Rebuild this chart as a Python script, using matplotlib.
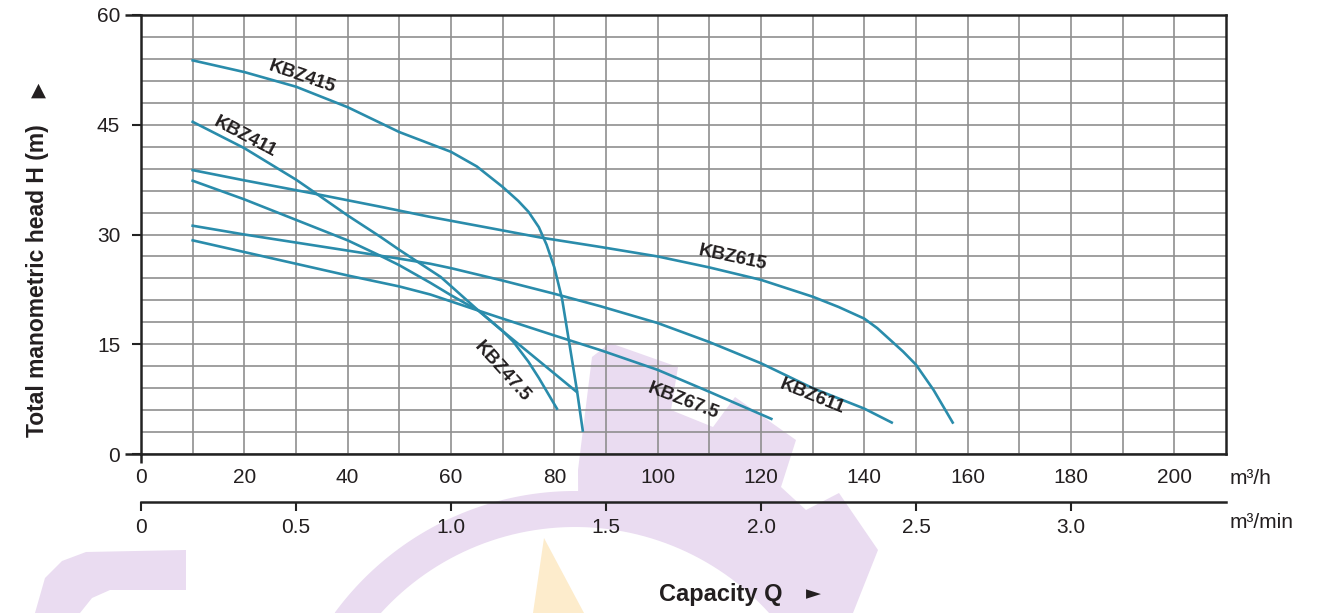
import matplotlib
matplotlib.use("Agg")
import matplotlib.pyplot as plt
import numpy as np
from matplotlib.patches import Polygon
from matplotlib.transforms import Affine2D, blended_transform_factory

plt.rcParams['font.family'] = ['Liberation Sans', 'DejaVu Sans']

# ---------------- data ----------------
q415 = [10, 20, 30, 40, 50, 60, 65, 70, 73, 75, 77, 78.5, 80, 81.5, 83, 84.4, 85.5]
h415 = [53.8, 52.2, 50.2, 47.4, 44.0, 41.3, 39.3, 36.5, 34.6, 33.1, 31.0, 28.6, 25.5, 21.2, 14.7, 8.6, 3.2]

q411 = [10, 20, 30, 33.3, 40, 46.3, 50, 58, 65, 70, 75, 80, 84.3]
h411 = [45.4, 41.8, 37.5, 35.9, 32.6, 29.7, 27.9, 24.2, 19.8, 16.8, 13.9, 11.0, 8.5]

q47 = [10, 20, 30, 40, 46.3, 50, 56, 60, 65.3, 70, 72, 75, 77, 80.5]
h47 = [37.35, 34.8, 32.0, 29.2, 27.1, 25.8, 23.4, 21.7, 19.6, 16.8, 15.4, 12.6, 10.4, 6.2]

q615 = [10, 20, 33.4, 46.3, 56, 67.4, 77.2, 88.9, 100, 110, 120, 130, 135, 140, 142.5, 145, 147.5, 150, 153.4, 157.1]
h615 = [38.8, 37.4, 35.6, 33.8, 32.4, 30.9, 29.6, 28.3, 27.0, 25.5, 23.8, 21.5, 20.1, 18.5, 17.2, 15.6, 14.0, 12.2, 8.75, 4.3]

q611 = [10, 20, 30, 40, 46.3, 50, 56, 60, 70, 80, 88.9, 100, 110, 120, 130, 140, 145.3]
h611 = [31.2, 30.0, 28.9, 27.8, 27.1, 26.7, 26.0, 25.4, 23.7, 21.9, 20.2, 17.9, 15.3, 12.4, 9.0, 6.2, 4.3]

q675 = [10, 20, 30, 40, 50, 56, 65.3, 70, 80, 88.9, 100, 110, 122]
h675 = [29.2, 27.6, 26.0, 24.4, 22.9, 21.8, 19.6, 18.5, 16.2, 14.2, 11.5, 8.5, 4.8]

curve_names = ['KBZ415', 'KBZ411', 'KBZ47.5', 'KBZ615', 'KBZ611', 'KBZ67.5']
label_pos = {'KBZ415': (31.2, 51.5, -19), 'KBZ411': (20.1, 43.3, -28),
             'KBZ47.5': (69.9, 11.3, -48), 'KBZ615': (114.6, 26.8, -12),
             'KBZ611': (129.9, 7.8, -22), 'KBZ67.5': (104.9, 7.2, -21)}

x_ticks_h = [0, 20, 40, 60, 80, 100, 120, 140, 160, 180, 200]
y_ticks = [0, 15, 30, 45, 60]
x_ticks_min = [0, 0.5, 1.0, 1.5, 2.0, 2.5, 3.0]
x_ticklabels_min = ['0', '0.5', '1.0', '1.5', '2.0', '2.5', '3.0']

W, H = 1338, 613
CURVE = '#2a8cab'
TXT = '#231f20'

fig = plt.figure(figsize=(W / 100, H / 100), dpi=100)
fig.patch.set_facecolor('white')

# ---------------- watermark (pixel coordinates) ----------------
pix = Affine2D().scale(1, -1).translate(0, H)
cx, cy = 575, 789
def arc(r, a0, a1, n=60):
    a = np.radians(np.linspace(a0, a1, n))
    return list(zip(cx + r * np.cos(a), cy - r * np.sin(a)))

gear = [(335, 613)] + arc(298, 143.7, 89.4) + [
    (578, 470), (592, 357), (610, 343), (678, 367), (671, 410), (713, 427),
    (735, 397), (796, 440), (781, 487), (806, 510), (839, 493), (878, 550),
    (853, 613), (769, 613)] + arc(262, 42.2, 137.8) + [(381, 613)]
fig.add_artist(Polygon(gear, closed=True, transform=pix, facecolor='#eadcf1',
                       edgecolor='none', zorder=-5))
left_shape = [(35, 613), (45, 578), (62, 561), (86, 552), (186, 550), (186, 590),
              (110, 590), (92, 598), (80, 613)]
fig.add_artist(Polygon(left_shape, closed=True, transform=pix, facecolor='#eadcf1',
                       edgecolor='none', zorder=-5))
flame = [(544, 538), (533, 613), (584, 613)]
fig.add_artist(Polygon(flame, closed=True, transform=pix, facecolor='#fdeccc',
                       edgecolor='none', zorder=-4))

# ---------------- main axes ----------------
ax = fig.add_axes([141 / W, 1 - 454 / H, 1085 / W, 439 / H])
ax.set_facecolor('none')
ax.set_xlim(0, 210)
ax.set_ylim(0, 60)

ax.set_xticks(x_ticks_h)
ax.set_xticklabels([str(v) for v in x_ticks_h])
ax.set_xticks(np.arange(10, 201, 10), minor=True)
ax.set_yticks(y_ticks)
ax.set_yticklabels([str(v) for v in y_ticks])
ax.set_yticks(np.arange(3, 60, 3), minor=True)
ax.grid(True, which='both', color='#8f8f8f', linewidth=1.2, zorder=0)
ax.set_axisbelow(True)

ax.tick_params(axis='x', which='both', length=0, pad=10, labelsize=15, labelcolor=TXT)
ax.tick_params(axis='y', which='major', length=6.5, width=1.5, color='#222222',
               pad=8.5, labelsize=15, labelcolor=TXT, direction='out')
ax.tick_params(axis='y', which='minor', length=0)
for s in ax.spines.values():
    s.set_color('#222222')
    s.set_linewidth(1.8)

# longer end ticks at 0 and 60, and left spine extension
bt = blended_transform_factory(ax.transAxes, ax.transData)
for yv in (0, 60):
    ax.plot([-16 / 1085, 0], [yv, yv], transform=bt, color='#222222', lw=1.8,
            clip_on=False, solid_capstyle='butt')
ax.plot([0, 0], [-9 / 439, 0], transform=ax.transAxes, color='#222222', lw=1.8,
        clip_on=False, solid_capstyle='butt')

curves = [(q415, h415), (q411, h411), (q47, h47), (q615, h615), (q611, h611), (q675, h675)]
for name, (q, h) in zip(curve_names, curves):
    ax.plot(q, h, color=CURVE, lw=1.9, zorder=3, solid_joinstyle='round')
    lx, ly, rot = label_pos[name]
    ax.text(lx, ly, name, rotation=rot, rotation_mode='anchor', ha='center',
            va='center', fontsize=13.5, fontweight='bold', color=TXT, zorder=4)

# ---------------- secondary m3/min axis ----------------
ax2 = fig.add_axes([141 / W, 1 - 502 / H, 1085 / W, 1e-5])
ax2.set_facecolor('none')
ax2.set_xlim(0, 210 / 60)
ax2.set_yticks([])
for k in ('top', 'left', 'right'):
    ax2.spines[k].set_visible(False)
ax2.spines['bottom'].set_color('#222222')
ax2.spines['bottom'].set_linewidth(1.8)
ax2.set_xticks(x_ticks_min)
ax2.set_xticklabels(x_ticklabels_min)
ax2.tick_params(axis='x', length=6.5, width=1.5, color='#222222', pad=5,
                labelsize=15, labelcolor=TXT, direction='out')

# ---------------- texts ----------------
fig.text(1230 / W, 1 - 478 / H, 'm³/h', ha='left', va='center', fontsize=15, color=TXT)
fig.text(1230 / W, 1 - 523 / H, 'm³/min', ha='left', va='center', fontsize=15, color=TXT)
fig.text(721 / W, 1 - 594 / H, 'Capacity Q', ha='center', va='center', fontsize=17,
         fontweight='bold', color=TXT)
fig.text(813 / W, 1 - 594 / H, '►', ha='center', va='center', fontsize=14, color=TXT,
         family=['DejaVu Sans'])
fig.text(38 / W, 1 - 281 / H, 'Total manometric head H (m)', rotation=90, ha='center',
         va='center', fontsize=16.5, fontweight='bold', color=TXT)
fig.text(38 / W, 1 - 90 / H, '▲', ha='center', va='center', fontsize=14, color=TXT,
         family=['DejaVu Sans'])

fig.savefig('out.png', dpi=100, facecolor='white')
